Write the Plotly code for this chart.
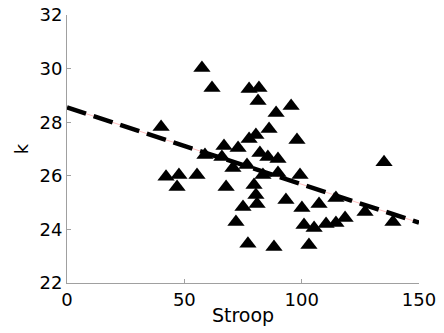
import plotly.graph_objects as go

stroop = [40.1, 57.5, 61.8, 77.6, 81.8, 81.4, 89.1, 95.5, 86.1, 98.0,
          66.9, 72.9, 77.6, 80.5, 58.8, 66.0, 70.7, 76.7, 82.2, 85.6,
          89.9, 135.1, 83.5, 89.9, 99.3, 42.2, 47.7, 46.9, 55.4, 67.8,
          79.7, 80.5, 81.0, 75.0, 72.0, 77.1, 88.2, 103.1, 93.3, 100.1,
          107.4, 114.6, 127.0, 138.9, 101.0, 105.3, 110.4, 114.6, 118.5]
k_vals = [27.82, 30.02, 29.28, 29.24, 29.28, 28.79, 28.34, 28.60, 27.75, 27.34,
          27.11, 27.04, 27.37, 27.52, 26.78, 26.70, 26.29, 26.40, 26.85, 26.70,
          26.63, 26.51, 26.03, 26.10, 26.03, 25.96, 26.03, 25.58, 26.03, 25.58,
          25.66, 25.28, 24.95, 24.84, 24.28, 23.46, 23.34, 23.42, 25.10, 24.80,
          24.95, 25.17, 24.65, 24.28, 24.16, 24.05, 24.20, 24.24, 24.43]

fit_x = [0, 150]
fit_y = [28.55, 24.25]

x_ticks = [0, 50, 100, 150]
y_ticks = [22, 24, 26, 28, 30, 32]

font_family = "DejaVu Sans, sans-serif"

fig = go.Figure()
fig.add_trace(go.Scatter(x=fit_x, y=fit_y, mode="lines",
                         line=dict(color="rgba(255,0,0,0.25)", width=1),
                         hoverinfo="skip", showlegend=False))
fig.add_trace(go.Scatter(x=stroop, y=k_vals, mode="markers",
                         marker=dict(symbol="triangle-up", size=15, color="black",
                                     line=dict(width=0)),
                         showlegend=False))
fig.add_trace(go.Scatter(x=fit_x, y=fit_y, mode="lines",
                         line=dict(color="black", width=4.5, dash="20px,8px"),
                         showlegend=False))

axis_common = dict(showline=True, linecolor="#a0a0a0", linewidth=1,
                   ticks="inside", ticklen=4, tickcolor="#a0a0a0",
                   showgrid=False, zeroline=False, mirror=False, automargin=False,
                   ticklabeloverflow="allow",
                   tickfont=dict(family=font_family, size=18, color="black"))

fig.update_layout(
    width=444, height=333,
    margin=dict(l=67, r=25, t=15, b=50, autoexpand=False),
    paper_bgcolor="white", plot_bgcolor="white",
    xaxis=dict(range=[0, 150], tickvals=x_ticks, ticktext=[str(v) for v in x_ticks],
               title=dict(text="Stroop", font=dict(family=font_family, size=19, color="black"),
                          standoff=0),
               **axis_common),
    yaxis=dict(range=[22, 32], tickvals=y_ticks, ticktext=[str(v) for v in y_ticks],
               title=dict(text="k", font=dict(family=font_family, size=18, color="black"),
                          standoff=6),
               **axis_common),
)

fig.write_html("out.html", config={"displayModeBar": False},
               post_script="document.body.style.margin='0px';")
